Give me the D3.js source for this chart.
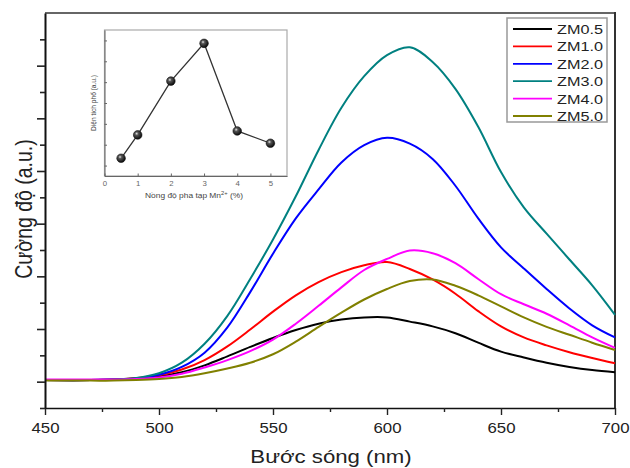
<!DOCTYPE html>
<html>
<head>
<meta charset="utf-8">
<script src="https://cdn.jsdelivr.net/npm/d3@7"></script>
<style>
  html, body { margin: 0; padding: 0; background: #fff; }
  svg { display: block; font-family: "Liberation Sans", Arial, sans-serif; }
</style>
</head>
<body>
<svg id="chart" width="630" height="468"></svg>
<script>
// Emission spectra of Mn-doped samples, plus inset of integrated intensity vs Mn content
const wavelengths = [450, 470, 480, 490, 500, 510, 520, 530, 540, 550, 560, 570, 580, 590, 600, 610, 620, 630, 640, 650, 660, 670, 680, 690, 700];
const seriesNames = ["ZM0.5", "ZM1.0", "ZM2.0", "ZM3.0", "ZM4.0", "ZM5.0"];
const seriesColors = ["#000000", "#ff0000", "#0000ff", "#008080", "#ff00ff", "#808000"];
const zm05 = [3, 3, 4, 6, 10, 18, 31, 48, 66, 83, 98, 110, 118, 122, 122, 114, 105, 92, 74, 57, 46, 36, 28, 22, 18];
const zm10 = [3, 3, 4, 7, 12, 23, 41, 67, 99, 133, 164, 189, 208, 221, 227, 214, 194, 167, 134, 105, 84, 69, 56, 45, 35];
const zm20 = [3, 3, 4, 6, 13, 28, 55, 103, 170, 243, 310, 365, 416, 449, 463, 452, 423, 372, 310, 255, 215, 176, 139, 107, 84];
const zm30 = [3, 3, 4, 7, 16, 36, 72, 125, 195, 270, 352, 440, 520, 580, 620, 635, 607, 556, 484, 398, 331, 281, 232, 183, 127];
const zm40 = [4, 4, 4, 5, 8, 15, 27, 41, 58, 80, 110, 144, 179, 212, 233, 249, 244, 225, 195, 166, 147, 129, 107, 84, 64];
const zm50 = [2, 2, 2, 3, 5, 9, 16, 25, 36, 52, 76, 104, 131, 156, 176, 191, 194, 182, 164, 143, 122, 104, 89, 74, 60];
const spectra = [zm05, zm10, zm20, zm30, zm40, zm50];

const xMajorTicks = [450, 500, 550, 600, 650, 700];
const xMinorTicks = [475, 525, 575, 625, 675];
const yMajorTicks = [0, 100, 200, 300, 400, 500, 600];
const yMinorTicks = [-50, 50, 150, 250, 350, 450, 550, 650];

// Inset: integrated spectral area vs Mn2+ doping level
const insetConc = [0.5, 1, 2, 3, 4, 5];
const insetArea = [0.85, 1.97, 4.55, 6.36, 2.16, 1.57];
const insetXTicks = [0, 1, 2, 3, 4, 5];
const insetYTicks = [0.5, 1.5, 2.5, 3.5, 4.5, 5.5, 6.5];

const svg = d3.select("#chart");
const STRETCH = "scale(1.2,1)";

const x = d3.scaleLinear().domain([450, 700]).range([45, 615]);
const y = d3.scaleLinear().domain([-50, 700]).range([408, 13]);

// frame: top and right edges
svg.append("line").attr("x1", 45).attr("x2", 616).attr("y1", 13).attr("y2", 13)
  .attr("stroke", "#666").attr("stroke-width", 2);
svg.append("line").attr("x1", 615).attr("x2", 615).attr("y1", 12).attr("y2", 408)
  .attr("stroke", "#333").attr("stroke-width", 2);

// spectra
const line = d3.line().x((d, i) => x(wavelengths[i])).y(d => y(d)).curve(d3.curveCatmullRom.alpha(0.5));
const plot = svg.append("g");
spectra.forEach((vals, k) => {
  plot.append("path").datum(vals).attr("d", line)
    .attr("fill", "none").attr("stroke", seriesColors[k]).attr("stroke-width", 2)
    .attr("stroke-linejoin", "round");
});

// x axis
const gx = svg.append("g").attr("transform", "translate(0,408)");
gx.call(d3.axisBottom(x).tickValues(xMajorTicks).tickSize(7).tickSizeOuter(0).tickPadding(8).tickFormat(d3.format("d")));
gx.append("g").call(d3.axisBottom(x).tickValues(xMinorTicks).tickSize(4).tickFormat(""))
  .select(".domain").remove();
gx.selectAll(".domain").attr("stroke", "#111").attr("stroke-width", 1.6);
gx.selectAll(".tick line").attr("stroke", "#222").attr("stroke-width", 1.4);
gx.selectAll(".tick text").attr("font-size", 14).attr("fill", "#222")
  .attr("font-family", "'Liberation Sans', Arial, sans-serif").attr("transform", STRETCH);

// y axis (no value labels)
const gy = svg.append("g").attr("transform", "translate(45,0)");
gy.call(d3.axisLeft(y).tickValues(yMajorTicks).tickSize(8).tickSizeOuter(0).tickFormat(""));
gy.append("g").call(d3.axisLeft(y).tickValues(yMinorTicks).tickSize(5).tickFormat(""))
  .select(".domain").remove();
gy.selectAll(".domain").attr("stroke", "#111").attr("stroke-width", 2);
gy.selectAll(".tick line").attr("stroke", "#222").attr("stroke-width", 1.6);

// axis titles
svg.append("text").attr("transform", "translate(331,463) " + STRETCH)
  .attr("text-anchor", "middle").attr("font-size", 18.5).attr("fill", "#222")
  .text("Bước sóng (nm)");
svg.append("text").attr("transform", "translate(32,209) " + STRETCH + " rotate(-90)")
  .attr("text-anchor", "middle").attr("font-size", 19.5).attr("fill", "#222")
  .text("Cường độ (a.u.)");

// legend
const lg = svg.append("g");
lg.append("rect").attr("x", 507).attr("y", 18).attr("width", 100).attr("height", 104)
  .attr("fill", "#fff").attr("stroke", "#999").attr("stroke-width", 1.5);
seriesNames.forEach((name, k) => {
  const cy = 29 + k * 17.4;
  lg.append("line").attr("x1", 513).attr("x2", 552).attr("y1", cy).attr("y2", cy)
    .attr("stroke", seriesColors[k]).attr("stroke-width", 1.8);
  lg.append("text").attr("transform", `translate(557,${cy + 5}) ${STRETCH}`)
    .attr("font-size", 13.5).attr("fill", "#222").text(name);
});

// inset
const ix = d3.scaleLinear().domain([0, 5.5]).range([104.5, 287]);
const iy = d3.scaleLinear().domain([0, 7]).range([176, 30]);
const inset = svg.append("g");
inset.append("rect").attr("x", 104.5).attr("y", 30).attr("width", 182.5).attr("height", 146)
  .attr("fill", "#fff").attr("stroke", "#aaa").attr("stroke-width", 1.2);

const igx = inset.append("g").attr("transform", "translate(0,176)");
igx.call(d3.axisBottom(ix).tickValues(insetXTicks).tickSize(-2.5).tickSizeOuter(0).tickPadding(5).tickFormat(d3.format("d")));
igx.selectAll(".domain").attr("stroke", "#666").attr("stroke-width", 1);
igx.selectAll(".tick line").attr("stroke", "#666");
igx.selectAll(".tick text").attr("font-size", 6.5).attr("fill", "#666")
  .attr("font-family", "'Liberation Sans', Arial, sans-serif").attr("transform", STRETCH);

const igy = inset.append("g").attr("transform", "translate(104.5,0)");
igy.call(d3.axisLeft(iy).tickValues(insetYTicks).tickSize(-2.5).tickSizeOuter(0).tickFormat(""));
igy.selectAll(".domain").attr("stroke", "#666").attr("stroke-width", 1);
igy.selectAll(".tick line").attr("stroke", "#666");

const ilabel = inset.append("text").attr("transform", "translate(194,198) " + STRETCH)
  .attr("text-anchor", "middle").attr("font-size", 7).attr("fill", "#444");
ilabel.append("tspan").text("Nồng độ pha tạp Mn");
ilabel.append("tspan").attr("font-size", 4.8).attr("dy", -3).text("2+");
ilabel.append("tspan").attr("dy", 3).text(" (%)");
inset.append("text").attr("transform", "translate(96,103) " + STRETCH + " rotate(-90)")
  .attr("text-anchor", "middle").attr("font-size", 6.6).attr("fill", "#444")
  .text("Diện tích phổ (a.u.)");

const defs = svg.append("defs");
const grad = defs.append("radialGradient").attr("id", "ball").attr("cx", "38%").attr("cy", "35%").attr("r", "65%");
grad.append("stop").attr("offset", "0%").attr("stop-color", "#e8e8e8");
grad.append("stop").attr("offset", "30%").attr("stop-color", "#555");
grad.append("stop").attr("offset", "100%").attr("stop-color", "#0a0a0a");

const iline = d3.line().x((d, i) => ix(insetConc[i])).y(d => iy(d));
inset.append("path").datum(insetArea).attr("d", iline)
  .attr("fill", "none").attr("stroke", "#333").attr("stroke-width", 1.3);
inset.selectAll("circle.pt").data(insetArea).join("circle").attr("class", "pt")
  .attr("cx", (d, i) => ix(insetConc[i])).attr("cy", d => iy(d)).attr("r", 4.3)
  .attr("fill", "url(#ball)").attr("stroke", "#111").attr("stroke-width", 0.6);
</script>
</body>
</html>
